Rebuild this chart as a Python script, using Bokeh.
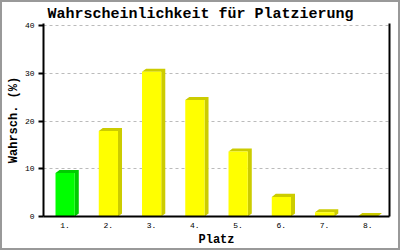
from bokeh.plotting import figure
from bokeh.models import (Range1d, FixedTicker, LinearAxis, Title)
from bokeh.embed import file_html
from bokeh.resources import INLINE

# ---- data ----
categories = ["1.", "2.", "3.", "4.", "5.", "6.", "7.", "8."]
values = [9.1, 17.9, 30.3, 24.4, 13.6, 4.1, 0.9, 0.1]
front_colors = ["#00ff00", "#ffff00", "#ffff00", "#ffff00", "#ffff00", "#ffff00", "#ffff00", "#ffff00"]
side_colors = ["#00cc00", "#cccc00", "#cccc00", "#cccc00", "#cccc00", "#cccc00", "#cccc00", "#cccc00"]
y_ticks = [0, 10, 20, 30, 40]
title_text = "Wahrscheinlichkeit für Platzierung"
x_title = "Platz"
y_title = "Wahrsch. (%)"

FONT = "Liberation Mono"

W, H = 396, 246          # canvas; a 2px CSS border makes the page 400x250
ML, MR, MT, MB = 41, 13, 21, 36
frame_w = W - ML - MR
frame_h = H - MT - MB
n = len(categories)
y_max = 40
px_per_unit = (frame_h - 2) / y_max     # top tick 2px below frame top
y_end = frame_h / px_per_unit

p = figure(width=W, height=H, output_backend="svg", toolbar_location=None,
           x_range=Range1d(0.5, n + 0.5), y_range=Range1d(0, y_end),
           min_border_left=ML, min_border_right=MR, min_border_top=MT, min_border_bottom=MB)
p.styles = {"border": "2px solid #999999", "box-sizing": "content-box"}
p.outline_line_color = None
p.background_fill_color = "white"
p.border_fill_color = "white"

# 3D depth in data units (4 px right, 3 px up)
dx = 4 / (frame_w / n)
dy = 3 / px_per_unit
bw = 19 / (frame_w / n)

xs_poly, ys_poly = [], []
xc = list(range(1, n + 1))
for i, v in enumerate(values):
    l = xc[i] - bw / 2
    r = xc[i] + bw / 2
    xs_poly.append([l, l + dx, r + dx, r + dx, r, r])
    ys_poly.append([v, v + dy, v + dy, dy, 0, v])

p.patches(xs_poly, ys_poly, fill_color=side_colors, line_color=None)
p.vbar(x=xc, top=values, bottom=0, width=bw, fill_color=front_colors, line_color=None)

# axes
p.xaxis.ticker = FixedTicker(ticks=xc)
p.xaxis.major_label_overrides = {i + 1: c for i, c in enumerate(categories)}
p.xaxis.major_tick_line_color = None
p.xaxis.minor_tick_line_color = None
p.xaxis.axis_line_width = 2
p.xaxis.major_label_standoff = 0
p.xaxis.axis_label = x_title
p.xaxis.axis_label_standoff = 2
p.yaxis.ticker = FixedTicker(ticks=y_ticks)
p.yaxis.major_tick_in = 0
p.yaxis.major_tick_out = 5
p.yaxis.major_tick_line_width = 2
p.yaxis.minor_tick_line_color = None
p.yaxis.axis_line_width = 2
p.yaxis.major_label_standoff = 4
p.yaxis.axis_label = y_title
p.yaxis.axis_label_standoff = 1
for ax in (p.xaxis, p.yaxis):
    ax.major_label_text_font = FONT
    ax.major_label_text_font_size = "8px"
    ax.major_label_text_color = "black"
    ax.axis_line_color = "black"
    ax.axis_label_text_font = FONT
    ax.axis_label_text_font_style = "bold"
    ax.axis_label_text_font_size = "12px"
    ax.axis_label_text_color = "black"

right = LinearAxis(ticker=FixedTicker(ticks=[]), major_label_text_font_size="0px",
                   major_tick_line_color=None, minor_tick_line_color=None,
                   axis_line_width=2, axis_line_color="black")
p.add_layout(right, "right")

p.xgrid.grid_line_color = None
p.ygrid.grid_line_color = "#bbbbbb"
p.ygrid.grid_line_dash = "3 3"
p.ygrid.grid_line_width = 1

# title
p.title = Title(text=title_text, align="left", offset=4, text_font=FONT,
                text_font_style="bold", text_font_size="15px", text_color="black",
                standoff=1)

open("out.html", "w").write(file_html(p, INLINE))
